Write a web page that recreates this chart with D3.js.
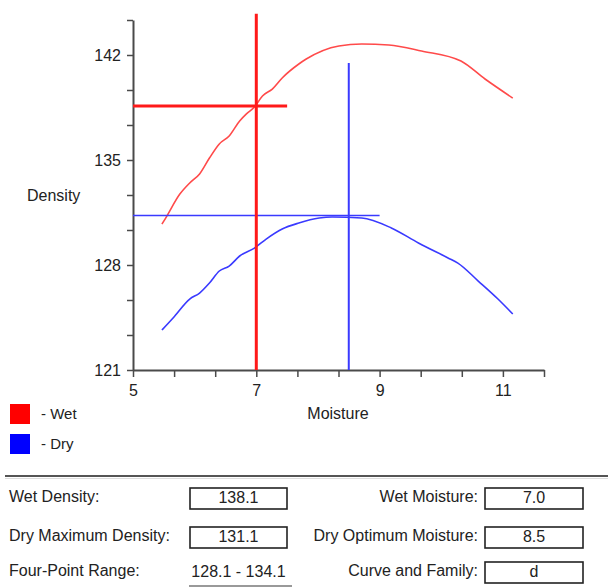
<!DOCTYPE html>
<html><head><meta charset="utf-8">
<script src="https://cdn.jsdelivr.net/npm/d3@7"></script>
<style>
html,body{margin:0;padding:0;background:#fff;}
svg{display:block;font-family:"Liberation Sans",Arial,sans-serif;}
</style></head>
<body><svg id="c" width="608" height="587"></svg>
<script>
// ---- data ----
const wetMoisture = [5.47,5.53,5.76,5.92,6.08,6.24,6.40,6.56,6.73,6.84,6.97,7.10,7.26,7.42,7.69,7.81,8.34,8.71,9.15,9.68,10.32,10.71,11.16];
const wetDensity  = [130.73,131.13,132.73,133.47,134.07,135.13,136.07,136.6,137.6,138.07,138.53,139.27,139.73,140.47,141.4,141.73,142.6,142.73,142.67,142.27,141.6,140.4,139.13];
const dryMoisture = [5.47,5.65,5.92,6.08,6.24,6.40,6.56,6.73,6.97,7.16,7.42,7.69,8.02,8.23,8.71,9.19,9.63,10.11,10.27,10.60,10.92,11.16];
const dryDensity  = [123.67,124.47,125.73,126.13,126.8,127.6,127.93,128.6,129.13,129.73,130.4,130.8,131.13,131.2,131.13,130.47,129.47,128.47,128.13,126.93,125.73,124.73];
const xTickLabels = ["5","7","9","11"];
const yTickLabels = ["121","128","135","142"];
// guide lines [x1,y1,x2,y2] in data units
const wetVLine = [7.0,121,7.0,144.75];
const wetHLine = [5,138.6,7.5,138.6];
const dryVLine = [8.5,121,8.5,141.47];
const dryHLine = [5,131.3,9.0,131.3];
const legendItems = ["- Wet","- Dry"];
const legendColors = ["#ff0000","#0000ff"];
const fieldsLeft = [["Wet Density:","138.1",true],["Dry Maximum Density:","131.1",true],["Four-Point Range:","128.1 - 134.1",false]];
const fieldsRight = [["Wet Moisture:","7.0"],["Dry Optimum Moisture:","8.5"],["Curve and Family:","d"]];

const svg = d3.select("#c");
const x = d3.scaleLinear().domain([5, 5+10*2/3]).range([133, 544]);
const y = d3.scaleLinear().domain([121, 121+10*7/3]).range([370, 20]);

const xTicks = d3.range(11).map(i => 5 + i*2/3);
const yTicks = d3.range(11).map(i => 121 + i*7/3);

const axisColor = "#4a4a4a";
const gx = svg.append("g").attr("transform","translate(0,370)")
  .call(d3.axisBottom(x).tickValues(xTicks).tickSize(7).tickSizeOuter(0)
    .tickFormat((d,i)=> i%3===0 ? xTickLabels[i/3] : ""));
const gy = svg.append("g").attr("transform","translate(133,0)")
  .call(d3.axisLeft(y).tickValues(yTicks).tickSize(6).tickSizeOuter(0)
    .tickFormat((d,i)=> i%3===0 ? yTickLabels[i/3] : ""));
[gx,gy].forEach(g=>{
  g.select(".domain").attr("stroke",axisColor).attr("stroke-width",2);
  g.selectAll(".tick line").attr("stroke",axisColor).attr("stroke-width",1.5);
  g.selectAll("text").attr("fill","#222").style("font-size","16px").style("font-family","Liberation Sans, Arial, sans-serif");
});
gx.selectAll("text").attr("dy","1.0em");
gy.selectAll("text").attr("dx","-3");

// curves
const line = d3.line().x(d=>x(d[0])).y(d=>y(d[1])).curve(d3.curveMonotoneX);
svg.append("path").datum(d3.zip(wetMoisture,wetDensity)).attr("d",line)
  .attr("fill","none").attr("stroke","#ff4a4a").attr("stroke-width",1.6);
svg.append("path").datum(d3.zip(dryMoisture,dryDensity)).attr("d",line)
  .attr("fill","none").attr("stroke","#3a3aff").attr("stroke-width",1.6);

function guide(l,color,w){
  svg.append("line").attr("x1",x(l[0])).attr("y1",y(l[1])).attr("x2",x(l[2])).attr("y2",y(l[3]))
    .attr("stroke",color).attr("stroke-width",w);
}
guide(dryHLine,"#3a3aff",1.5);
guide(dryVLine,"#3a3aff",2);
guide(wetHLine,"#ff1a1a",3);
guide(wetVLine,"#ff1a1a",3);

// axis titles
svg.append("text").attr("x",27).attr("y",197).attr("dominant-baseline","middle")
  .attr("fill","#222").style("font-size","16px").text("Density");
svg.append("text").attr("x",338).attr("y",415).attr("dominant-baseline","middle").attr("text-anchor","middle")
  .attr("fill","#222").style("font-size","16px").text("Moisture");

// legend
legendItems.forEach((t,i)=>{
  svg.append("rect").attr("x",10).attr("y",404+i*30).attr("width",20).attr("height",20).attr("fill",legendColors[i]);
  svg.append("text").attr("x",41).attr("y",415+i*30).attr("dominant-baseline","middle")
    .attr("fill","#222").style("font-size","15px").text(t);
});

// separator
svg.append("line").attr("x1",5).attr("x2",608).attr("y1",476).attr("y2",476).attr("stroke","#555").attr("stroke-width",2);
svg.append("line").attr("x1",5).attr("x2",608).attr("y1",478.5).attr("y2",478.5).attr("stroke","#ddd").attr("stroke-width",1);

// fields
const rowsY = [498, 537, 572];
fieldsLeft.forEach((f,i)=>{
  svg.append("text").attr("x",9).attr("y",rowsY[i]).attr("dominant-baseline","middle")
    .attr("fill","#222").style("font-size","16px").text(f[0]);
  if (f[2]) {
    svg.append("rect").attr("x",190).attr("y",rowsY[i]-10).attr("width",97).attr("height",21)
      .attr("fill","#fff").attr("stroke","#222").attr("stroke-width",1.6);
  } else {
    svg.append("line").attr("x1",189).attr("x2",292).attr("y1",586).attr("y2",586).attr("stroke","#777").attr("stroke-width",1.5);
  }
  svg.append("text").attr("x",238.5).attr("y",rowsY[i]+1).attr("dominant-baseline","middle").attr("text-anchor","middle")
    .attr("fill","#222").style("font-size","16px").text(f[1]);
});
fieldsRight.forEach((f,i)=>{
  svg.append("text").attr("x",478).attr("y",rowsY[i]).attr("dominant-baseline","middle").attr("text-anchor","end")
    .attr("fill","#222").style("font-size","16px").text(f[0]);
  svg.append("rect").attr("x",485).attr("y",rowsY[i]-10).attr("width",98).attr("height",21)
    .attr("fill","#fff").attr("stroke","#222").attr("stroke-width",1.6);
  svg.append("text").attr("x",534).attr("y",rowsY[i]+1).attr("dominant-baseline","middle").attr("text-anchor","middle")
    .attr("fill","#222").style("font-size","16px").text(f[1]);
});
</script></body></html>
